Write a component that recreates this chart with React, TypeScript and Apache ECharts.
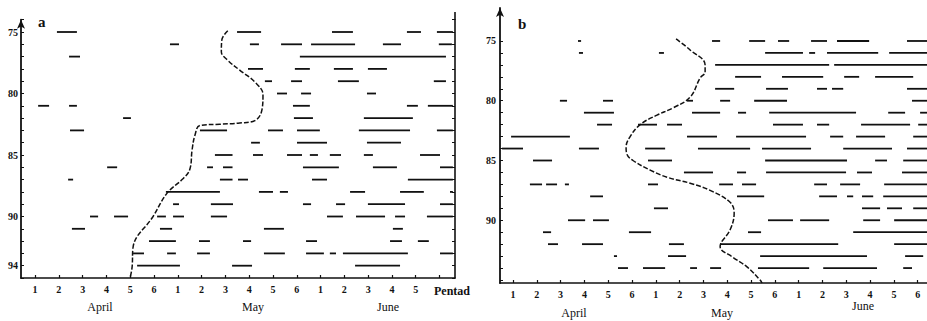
import React, { useEffect, useRef } from "react";
import * as echarts from "echarts";

// Panel a: rainy spells [year, startPentad, endPentad] (pentads counted from April 1)
const rainA: [number, number, number][] = [
  [75, 1.92, 2.76], [75, 9.49, 10.5], [75, 13.48, 14.36], [75, 16.63, 17.22], [75, 17.89, 18.56],
  [76, 6.67, 7.05], [76, 10.03, 10.41], [76, 11.34, 12.22], [76, 12.6, 14.45], [76, 15.62, 16.38], [76, 17.97, 18.52],
  [77, 2.43, 2.89], [77, 12.13, 18.27],
  [78, 9.95, 10.58], [78, 11.92, 12.55], [78, 13.56, 14.36], [78, 14.99, 15.79],
  [79, 10.66, 10.96], [79, 11.76, 12.22], [79, 13.73, 14.61], [79, 17.76, 18.27],
  [80, 11.17, 11.59], [80, 12.18, 12.6], [80, 14.95, 15.33],
  [81, 1.13, 1.59], [81, 2.43, 2.76], [81, 11.84, 12.55], [81, 16.63, 17.09], [81, 17.51, 18.56],
  [82, 4.7, 5.03], [82, 11.88, 12.68], [82, 14.82, 16.88],
  [83, 2.47, 3.06], [83, 7.93, 9.07], [83, 10.79, 11.42], [83, 12.01, 12.97], [83, 14.61, 16.76], [83, 17.89, 18.56],
  [84, 10.08, 10.45], [84, 12.01, 13.27], [84, 14.95, 16.38],
  [85, 8.56, 9.3], [85, 10.16, 10.58], [85, 11.59, 12.22], [85, 12.55, 12.89], [85, 13.39, 13.86], [85, 14.82, 15.2], [85, 17.18, 18.02],
  [86, 4.03, 4.45], [86, 8.23, 8.48], [86, 8.9, 9.3], [86, 12.26, 13.77], [86, 15.2, 16.21], [86, 18.02, 18.56],
  [87, 2.39, 2.6], [87, 8.77, 9.3], [87, 9.53, 9.95], [87, 12.64, 13.27], [87, 16.67, 18.56],
  [88, 6.5, 8.77], [88, 10.41, 11.0], [88, 11.29, 11.63], [88, 14.24, 14.87], [88, 16.34, 17.34], [88, 18.44, 18.56],
  [89, 6.8, 7.05], [89, 8.39, 9.32], [89, 12.26, 12.6], [89, 13.65, 14.03], [89, 14.99, 16.55], [89, 18.02, 18.56],
  [90, 3.31, 3.65], [90, 4.32, 4.91], [90, 6.13, 6.5], [90, 6.8, 7.26], [90, 8.39, 9.07], [90, 13.27, 13.94], [90, 14.49, 15.71], [90, 16.13, 16.55], [90, 17.47, 18.56],
  [91, 2.55, 3.1], [91, 6.25, 6.76], [91, 10.62, 11.46], [91, 16.04, 16.46],
  [92, 5.79, 6.92], [92, 7.89, 8.35], [92, 9.74, 10.08], [92, 12.39, 12.85], [92, 15.92, 16.42], [92, 17.09, 17.55],
  [93, 5.12, 5.58], [93, 6.55, 6.92], [93, 7.81, 8.35], [93, 10.62, 11.5], [93, 12.39, 13.14], [93, 13.39, 13.65], [93, 13.94, 16.67], [93, 18.02, 18.56],
  [94, 5.29, 7.09], [94, 9.28, 10.12], [94, 14.45, 16.34],
];

// Panel b: rainy spells [year, startPentad, endPentad]
const rainB: [number, number, number][] = [
  [75, 3.73, 3.86], [75, 9.36, 9.7], [75, 10.92, 11.59], [75, 12.13, 12.6], [75, 13.52, 14.19], [75, 14.61, 15.96], [75, 17.55, 18.39],
  [76, 3.77, 3.94], [76, 7.13, 7.34], [76, 11.59, 13.18], [76, 13.44, 13.69], [76, 14.19, 16.34], [76, 16.8, 18.39],
  [77, 9.49, 14.28], [77, 14.49, 18.39],
  [78, 10.33, 11.42], [78, 12.3, 14.03], [78, 14.91, 15.54], [78, 16.21, 17.81],
  [79, 9.49, 10.29], [79, 11.63, 12.55], [79, 13.77, 14.19], [79, 14.4, 14.87], [79, 17.55, 18.39],
  [80, 2.97, 3.27], [80, 4.78, 5.2], [80, 8.31, 8.56], [80, 9.7, 10.12], [80, 11.13, 12.51], [80, 17.76, 18.39],
  [81, 3.98, 5.24], [81, 8.52, 9.7], [81, 10.45, 10.79], [81, 11.76, 15.41], [81, 16.76, 17.47], [81, 18.1, 18.39],
  [82, 4.53, 5.16], [82, 6.25, 7.05], [82, 7.47, 8.1], [82, 11.92, 13.18], [82, 13.77, 14.28], [82, 15.62, 17.68], [82, 18.02, 18.39],
  [83, 0.92, 3.39], [83, 8.31, 9.57], [83, 10.37, 13.31], [83, 14.32, 14.87], [83, 15.41, 16.63], [83, 17.81, 18.39],
  [84, 0.54, 1.42], [84, 3.77, 4.61], [84, 6.55, 7.39], [84, 8.77, 10.96], [84, 11.46, 13.52], [84, 14.87, 16.92], [84, 17.55, 18.39],
  [85, 1.84, 2.64], [85, 6.67, 7.68], [85, 11.59, 15.03], [85, 16.21, 16.71], [85, 17.39, 18.39],
  [86, 8.18, 9.4], [86, 10.41, 10.79], [86, 11.63, 14.99], [86, 15.45, 16.08], [86, 17.34, 18.39],
  [87, 1.71, 2.22], [87, 2.39, 2.85], [87, 3.18, 3.35], [87, 6.67, 7.09], [87, 9.66, 10.24], [87, 10.62, 11.21], [87, 13.65, 14.19], [87, 14.74, 15.58], [87, 16.59, 18.39],
  [88, 4.24, 4.78], [88, 10.41, 11.55], [88, 13.86, 14.61], [88, 15.03, 15.29], [88, 15.66, 16.13], [88, 16.55, 18.39],
  [89, 6.92, 7.51], [89, 15.66, 16.42], [89, 16.71, 17.34], [89, 17.81, 18.39],
  [90, 3.31, 4.03], [90, 4.36, 5.03], [90, 11.71, 12.76], [90, 13.06, 14.28], [90, 15.71, 16.42], [90, 17.01, 18.39],
  [91, 2.26, 2.6], [91, 5.87, 6.8], [91, 10.87, 11.42], [91, 15.29, 18.39],
  [92, 2.47, 2.89], [92, 3.9, 4.78], [92, 7.55, 8.18], [92, 9.7, 14.66], [92, 17.01, 18.39],
  [93, 5.24, 5.37], [93, 7.51, 8.27], [93, 11.38, 15.87], [93, 17.47, 18.23],
  [94, 5.41, 5.83], [94, 6.46, 7.39], [94, 8.44, 8.73], [94, 9.28, 9.74], [94, 11.29, 13.44], [94, 14.03, 16.29], [94, 17.39, 17.76],
];

// Onset curves [pentad, year]
const curveA: [number, number][] = [
  [9.1, 74.9], [8.85, 75.65], [8.83, 76.6], [9.1, 77.3], [9.6, 78.1], [10.24, 79.07], [10.58, 80.1],
  [10.54, 81.3], [10.24, 82.2], [9.6, 82.4], [8.77, 82.5], [7.93, 82.6], [7.72, 83.4], [7.6, 84.6],
  [7.5, 86.2], [7.18, 87.0], [6.55, 88.1], [5.96, 90.0], [5.12, 92.5], [5.08, 94.1], [5.0, 94.95],
];
const curveB: [number, number][] = [
  [7.85, 74.83], [8.44, 75.75], [9.07, 77.0], [9.07, 77.6], [8.86, 78.1], [8.44, 79.7], [7.72, 80.6],
  [7.05, 81.2], [6.34, 82.0], [5.92, 83.0], [5.75, 83.9], [5.79, 84.5], [6.04, 85.0], [6.76, 85.8],
  [7.47, 86.4], [8.44, 86.9], [9.28, 87.5], [10.12, 88.5], [10.29, 89.4], [10.12, 90.8], [9.7, 92.2],
  [10.24, 93.1], [10.83, 93.9], [11.38, 95.0], [11.46, 95.25],
];

const pentadTicks = [1, 2, 3, 4, 5, 6, 7, 8, 9, 10, 11, 12, 13, 14, 15, 16, 17, 18];
const pentadLabelsA = [1, 2, 3, 4, 5, 6, 7, 8, 9, 10, 11, 12, 13, 14, 15, 16, 17];
const yearTicks = [74, 75, 76, 77, 78, 79, 80, 81, 82, 83, 84, 85, 86, 87, 88, 89, 90, 91, 92, 93, 94, 95];
const yearLabelsA = [75, 80, 85, 90, 94];
const yearLabelsB = [75, 80, 85, 90];
const monthsA = [
  { text: "April", x: 100, y: 307 },
  { text: "May", x: 253, y: 307 },
  { text: "June", x: 388, y: 307 },
];
const monthsB = [
  { text: "April", x: 574, y: 313 },
  { text: "May", x: 722, y: 313 },
  { text: "June", x: 863, y: 306 },
];

const FONT = "'Liberation Serif', 'DejaVu Serif', serif";
const INK = "#111";

function segSeries(data: [number, number, number][], idx: number) {
  return {
    type: "custom",
    xAxisIndex: idx,
    yAxisIndex: idx === 0 ? 0 : 2,
    dimensions: ["year", "start", "end"],
    encode: { x: [1, 2], y: 0 },
    data,
    clip: false,
    renderItem: (params: any, api: any) => {
      const p1 = api.coord([api.value(1), api.value(0)]);
      const p2 = api.coord([api.value(2), api.value(0)]);
      return {
        type: "line",
        shape: { x1: p1[0], y1: p1[1], x2: p2[0], y2: p2[1] },
        style: { stroke: INK, lineWidth: 1.8 },
      };
    },
  };
}

function xAxisCfg(grid: number, min: number, max: number, labels: number[]) {
  return {
    type: "value",
    gridIndex: grid,
    min,
    max,
    splitLine: { show: false },
    axisLine: { show: true, onZero: false, lineStyle: { color: INK, width: 1.6 } },
    axisTick: { show: true, inside: true, length: 3, customValues: pentadTicks, lineStyle: { color: INK, width: 1.2 } },
    axisLabel: {
      show: true,
      customValues: labels,
      formatter: (v: number) => String(((Math.round(v) - 1) % 6) + 1),
      fontFamily: FONT,
      fontWeight: "bold",
      fontSize: 10,
      color: INK,
      margin: 6,
    },
  };
}

export default function App() {
  const ref = useRef<HTMLDivElement>(null);
  useEffect(() => {
    if (!ref.current) return;
    const chart = echarts.init(ref.current, undefined, { renderer: "svg" });
    const option: any = {
      animation: false,
      backgroundColor: "#fff",
      grid: [
        { left: 21, top: 19.7, width: 434, height: 258.3 },
        { left: 500, top: 8, width: 427, height: 275 },
      ],
      xAxis: [
        xAxisCfg(0, 0.41, 18.65, pentadLabelsA),
        xAxisCfg(1, 0.454, 18.39, pentadTicks),
      ],
      yAxis: [
        {
          type: "value",
          gridIndex: 0,
          inverse: true,
          min: 74,
          max: 95,
          splitLine: { show: false },
          axisLine: { show: true, onZero: false, symbol: ["none", "arrow"], symbolSize: [6, 9], lineStyle: { color: INK, width: 1.8 } },
          axisTick: { show: true, inside: true, length: 3, customValues: yearTicks, lineStyle: { color: INK } },
          axisLabel: { customValues: yearLabelsA, fontFamily: FONT, fontWeight: "bold", fontSize: 10, color: INK, margin: 3 },
        },
        {
          type: "value",
          gridIndex: 0,
          position: "right",
          inverse: true,
          min: 74,
          max: 95,
          splitLine: { show: false },
          axisLine: { show: true, onZero: false, lineStyle: { color: INK, width: 1.6 } },
          axisTick: { show: true, inside: true, length: 3, customValues: yearTicks, lineStyle: { color: INK } },
          axisLabel: { show: false },
        },
        {
          type: "value",
          gridIndex: 1,
          inverse: true,
          min: 72.24,
          max: 95.25,
          splitLine: { show: false },
          axisLine: { show: true, onZero: false, symbol: ["none", "arrow"], symbolSize: [6, 9], lineStyle: { color: INK, width: 1.8 } },
          axisTick: { show: true, inside: true, length: 3, customValues: yearTicks.slice(1), lineStyle: { color: INK } },
          axisLabel: { customValues: yearLabelsB, fontFamily: FONT, fontWeight: "bold", fontSize: 10, color: INK, margin: 4 },
        },
      ],
      series: [
        segSeries(rainA, 0),
        segSeries(rainB, 1),
        {
          type: "line",
          xAxisIndex: 0,
          yAxisIndex: 0,
          data: curveA,
          smooth: 0.4,
          showSymbol: false,
          clip: false,
          lineStyle: { color: INK, width: 1.5, type: [5, 2] },
        },
        {
          type: "line",
          xAxisIndex: 1,
          yAxisIndex: 2,
          data: curveB,
          smooth: 0.4,
          showSymbol: false,
          clip: false,
          lineStyle: { color: INK, width: 1.5, type: [5, 2] },
        },
      ],
      graphic: [
        { type: "line", shape: { x1: 455, y1: 12, x2: 455, y2: 20 }, style: { stroke: INK, lineWidth: 1.6 } },
        { type: "text", x: 38, y: 14, style: { text: "a", font: `bold 15px ${FONT}`, fill: INK } },
        { type: "text", x: 518, y: 16, style: { text: "b", font: `bold 15px ${FONT}`, fill: INK } },
        { type: "text", x: 434, y: 285, style: { text: "Pentad", font: `bold 12px ${FONT}`, fill: INK } },
        ...monthsA.concat(monthsB).map((m) => ({
          type: "text",
          x: m.x,
          y: m.y,
          style: { text: m.text, font: `12px ${FONT}`, fill: INK, align: "center", verticalAlign: "middle" },
        })),
      ],
    };
    chart.setOption(option);
    return () => chart.dispose();
  }, []);
  return (
    <div
      ref={ref}
      style={{ position: "fixed", left: 0, top: 0, width: 927, height: 321, background: "#fff" }}
    />
  );
}
